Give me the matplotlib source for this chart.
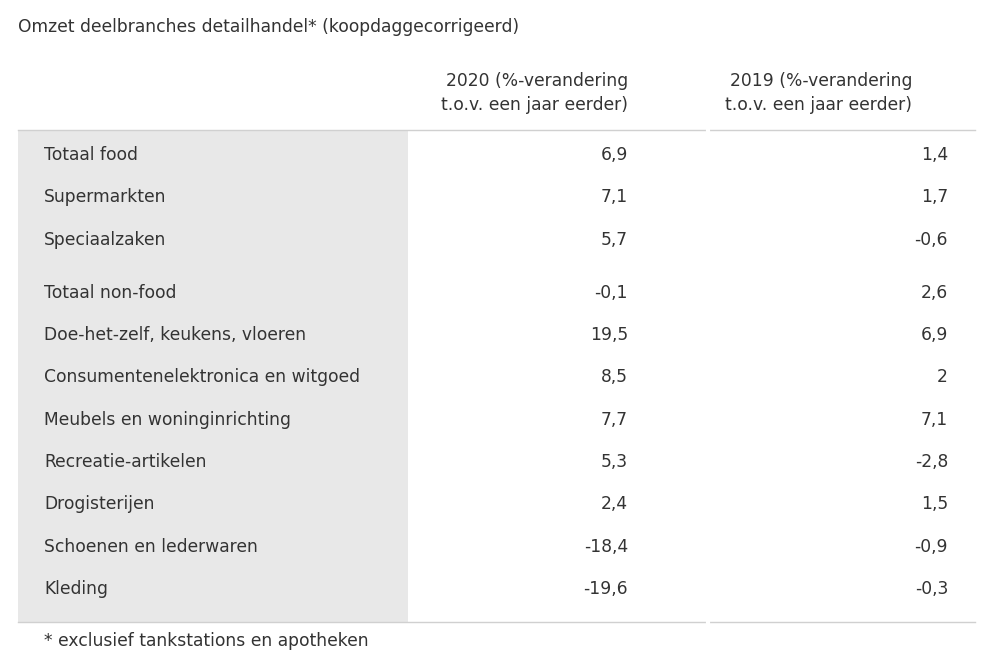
import matplotlib.pyplot as plt
from matplotlib.patches import Rectangle

title = "Omzet deelbranches detailhandel* (koopdaggecorrigeerd)"
col_headers = ["2020 (%-verandering\nt.o.v. een jaar eerder)",
               "2019 (%-verandering\nt.o.v. een jaar eerder)"]
categories = ["Totaal food", "Supermarkten", "Speciaalzaken",
              "Totaal non-food", "Doe-het-zelf, keukens, vloeren",
              "Consumentenelektronica en witgoed", "Meubels en woninginrichting",
              "Recreatie-artikelen", "Drogisterijen", "Schoenen en lederwaren", "Kleding"]
values_2020 = ["6,9", "7,1", "5,7", "-0,1", "19,5", "8,5", "7,7", "5,3", "2,4", "-18,4", "-19,6"]
values_2019 = ["1,4", "1,7", "-0,6", "2,6", "6,9", "2", "7,1", "-2,8", "1,5", "-0,9", "-0,3"]
footnote = "* exclusief tankstations en apotheken"

plt.rcParams["font.family"] = ["DejaVu Sans"]
txt = "#333333"
fs = 12.3

fig = plt.figure(figsize=(10, 6.65), dpi=100)
ax = fig.add_axes([0, 0, 1, 1])
ax.set_xlim(0, 1000)
ax.set_ylim(665, 0)
ax.axis("off")

# gray label column and rules
ax.add_patch(Rectangle((18, 130), 390, 492, color="#e8e8e8", lw=0))
ax.plot([18, 975], [130, 130], color="#d0d0d0", lw=1)
ax.plot([18, 975], [622, 622], color="#d0d0d0", lw=1)
ax.plot([708, 708], [130, 622], color="white", lw=3)

ax.text(18, 27, title, fontsize=fs, color=txt, va="center")
ax.text(628, 93, col_headers[0], fontsize=fs, color=txt, ha="right", va="center", linespacing=1.5)
ax.text(912, 93, col_headers[1], fontsize=fs, color=txt, ha="right", va="center", linespacing=1.5)

for i, (c, a, b) in enumerate(zip(categories, values_2020, values_2019)):
    y = 155 + i * 42.3 + (11 if i >= 3 else 0)
    ax.text(44, y, c, fontsize=fs, color=txt, va="center")
    ax.text(628, y, a, fontsize=fs, color=txt, ha="right", va="center")
    ax.text(948, y, b, fontsize=fs, color=txt, ha="right", va="center")

ax.text(44, 641, footnote, fontsize=fs, color=txt, va="center")

fig.savefig("out.png", dpi=100, facecolor="white")
